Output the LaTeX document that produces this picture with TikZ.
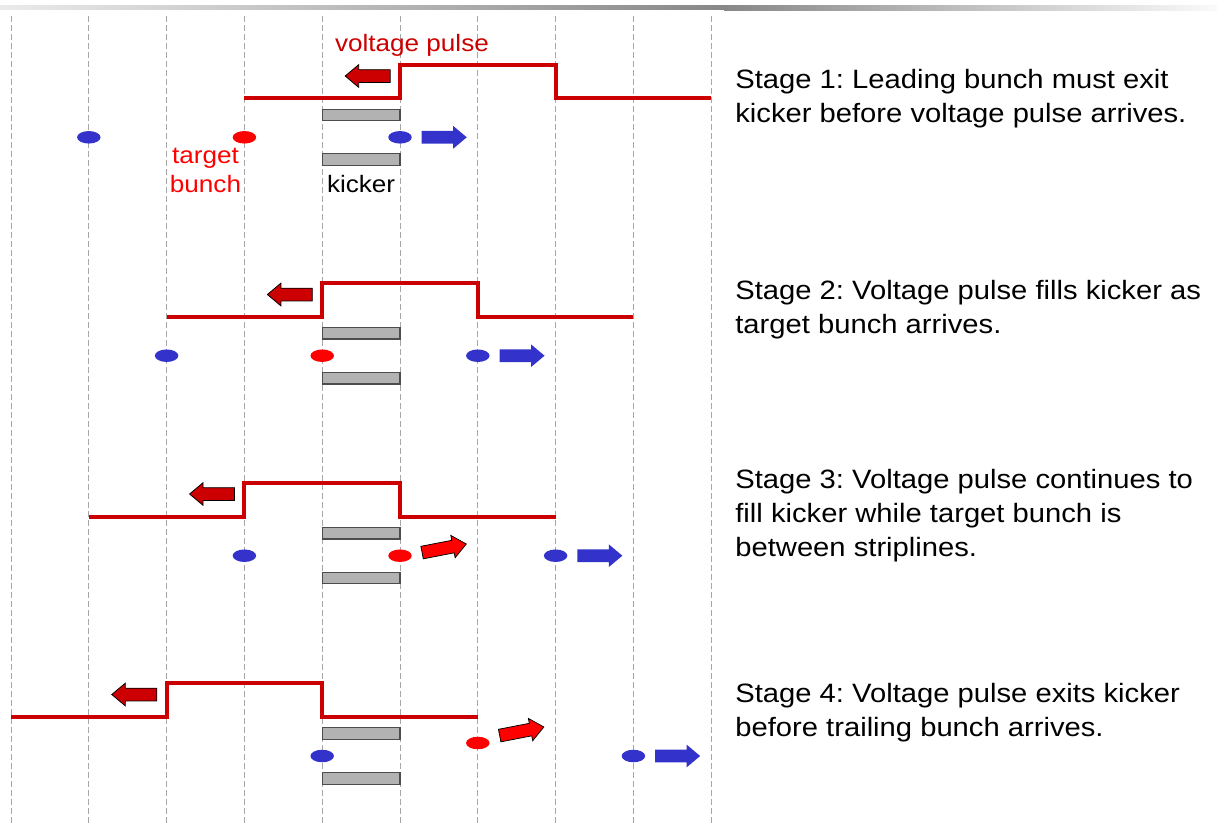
\documentclass[tikz,border=0pt]{standalone}
\usepackage{fontspec}
\setmainfont{Liberation Sans}[FakeStretch=1.1]
\usetikzlibrary{shapes.geometric, shapes.arrows}
\frenchspacing

\definecolor{pulsered}{HTML}{CC0000}
\definecolor{bunchblue}{HTML}{3333CC}
\definecolor{kickergray}{HTML}{B2B2B2}

\begin{document}
\begin{tikzpicture}[
        x=15.56mm, y=-0.2mm,
        gridline/.style={black!35, line width=0.2mm, dash pattern=on 1.1mm off 0.7mm},
        pulse/.style={pulsered, line width=0.8mm},
        stripline/.style={rectangle, draw=black!70, fill=kickergray, line width=0.25mm, minimum width=15.56mm, minimum height=2.3mm, inner sep=0},
        bluebunch/.style={ellipse, fill=bunchblue, minimum width=4.7mm, minimum height=2.5mm, inner sep=0},
        redbunch/.style={ellipse, fill=red, minimum width=4.7mm, minimum height=2.5mm, inner sep=0},
        blockarrow/.style={single arrow, single arrow head extend=1mm, single arrow tip angle=80, minimum height=9mm, inner xsep=0, inner ysep=1.2mm},
        backarrow/.style={blockarrow, draw=black, fill=pulsered, line width=0.15mm, shape border rotate=180},
        bluearrow/.style={blockarrow, fill=bunchblue},
        kickarrow/.style={blockarrow, draw=black, fill=red, line width=0.15mm, rotate=11},
        tagtext/.style={anchor=base, align=center, inner sep=0, font=\fontsize{13.5}{16.9}\selectfont},
        stagetext/.style={anchor=base west, align=left, inner sep=0, font=\fontsize{15.1}{19.35}\selectfont},
    ]
    \useasboundingbox (-0.1414,0) rectangle (15.5013,823);
    % top bar and time grid
    \shade[left color=black!8, right color=black!47] (-0.1414,5) rectangle (9.1645,9.5);
    \shade[left color=black!47, right color=black!2] (9.1645,5) rectangle (15.5013,10);
    \foreach \c in {0,...,9}
        \draw[gridline] (\c,16) -- (\c,823);

    % stage 1
    \draw[pulse] (3,98.3) -- (5,98.3) -- (5,65) -- (7,65) -- (7,98.3) -- (9,98.3);
    \node[backarrow] (back1) at (4.633,76) {};
    \node[stripline] (top1) at (4.5,115) {};
    \node[stripline] (bot1) at (4.5,159.5) {};
    \node[bluebunch] (trail1) at (1,137.3) {};
    \node[redbunch] (target1) at (3,137.3) {};
    \node[bluebunch] (lead1) at (5,137.3) {};
    \node[bluearrow] (go1) at (5.52,137.3) {};
    \node[tagtext, text=pulsered] (pulselbl) at (5.154,51.7) {voltage pulse};
    \node[tagtext, text=red] (targetlbl) at (2.5,192.7) {target\\bunch};
    \node[tagtext] (kickerlbl) at (4.5,192.7) {kicker};
    \node[stagetext] (stage1) at (9.306,122.7) {Stage 1: Leading bunch must exit\\kicker before voltage pulse arrives.};

    % stage 2
    \draw[pulse] (2,316.7) -- (4,316.7) -- (4,282.7) -- (6,282.7) -- (6,316.7) -- (8,316.7);
    \node[backarrow] (back2) at (3.633,294.5) {};
    \node[stripline] (top2) at (4.5,333.3) {};
    \node[stripline] (bot2) at (4.5,378.3) {};
    \node[bluebunch] (trail2) at (2,355.7) {};
    \node[redbunch] (target2) at (4,355.7) {};
    \node[bluebunch] (lead2) at (6,355.7) {};
    \node[bluearrow] (go2) at (6.52,355.7) {};
    \node[stagetext] (stage2) at (9.306,333) {Stage 2: Voltage pulse fills kicker as\\target bunch arrives.};

    % stage 3
    \draw[pulse] (1,516.7) -- (3,516.7) -- (3,482.7) -- (5,482.7) -- (5,516.7) -- (7,516.7);
    \node[backarrow] (back3) at (2.633,494) {};
    \node[stripline] (top3) at (4.5,533.3) {};
    \node[stripline] (bot3) at (4.5,578) {};
    \node[bluebunch] (trail3) at (3,555.7) {};
    \node[redbunch] (target3) at (5,555.7) {};
    \node[kickarrow] (kick3) at (5.52,549) {};
    \node[bluebunch] (lead3) at (7,555.7) {};
    \node[bluearrow] (go3) at (7.52,555.7) {};
    \node[stagetext] (stage3) at (9.306,556) {Stage 3: Voltage pulse continues to\\fill kicker while target bunch is\\between striplines.};

    % stage 4
    \draw[pulse] (0,717) -- (2,717) -- (2,683) -- (4,683) -- (4,717) -- (6,717);
    \node[backarrow] (back4) at (1.633,694.5) {};
    \node[stripline] (top4) at (4.5,733.5) {};
    \node[stripline] (bot4) at (4.5,778.5) {};
    \node[bluebunch] (trail4) at (4,756) {};
    \node[redbunch] (target4) at (6,743) {};
    \node[kickarrow] (kick4) at (6.517,732) {};
    \node[bluebunch] (lead4) at (8,756) {};
    \node[bluearrow] (go4) at (8.52,756) {};
    \node[stagetext] (stage4) at (9.306,736) {Stage 4: Voltage pulse exits kicker\\before trailing bunch arrives.};
\end{tikzpicture}
\end{document}
